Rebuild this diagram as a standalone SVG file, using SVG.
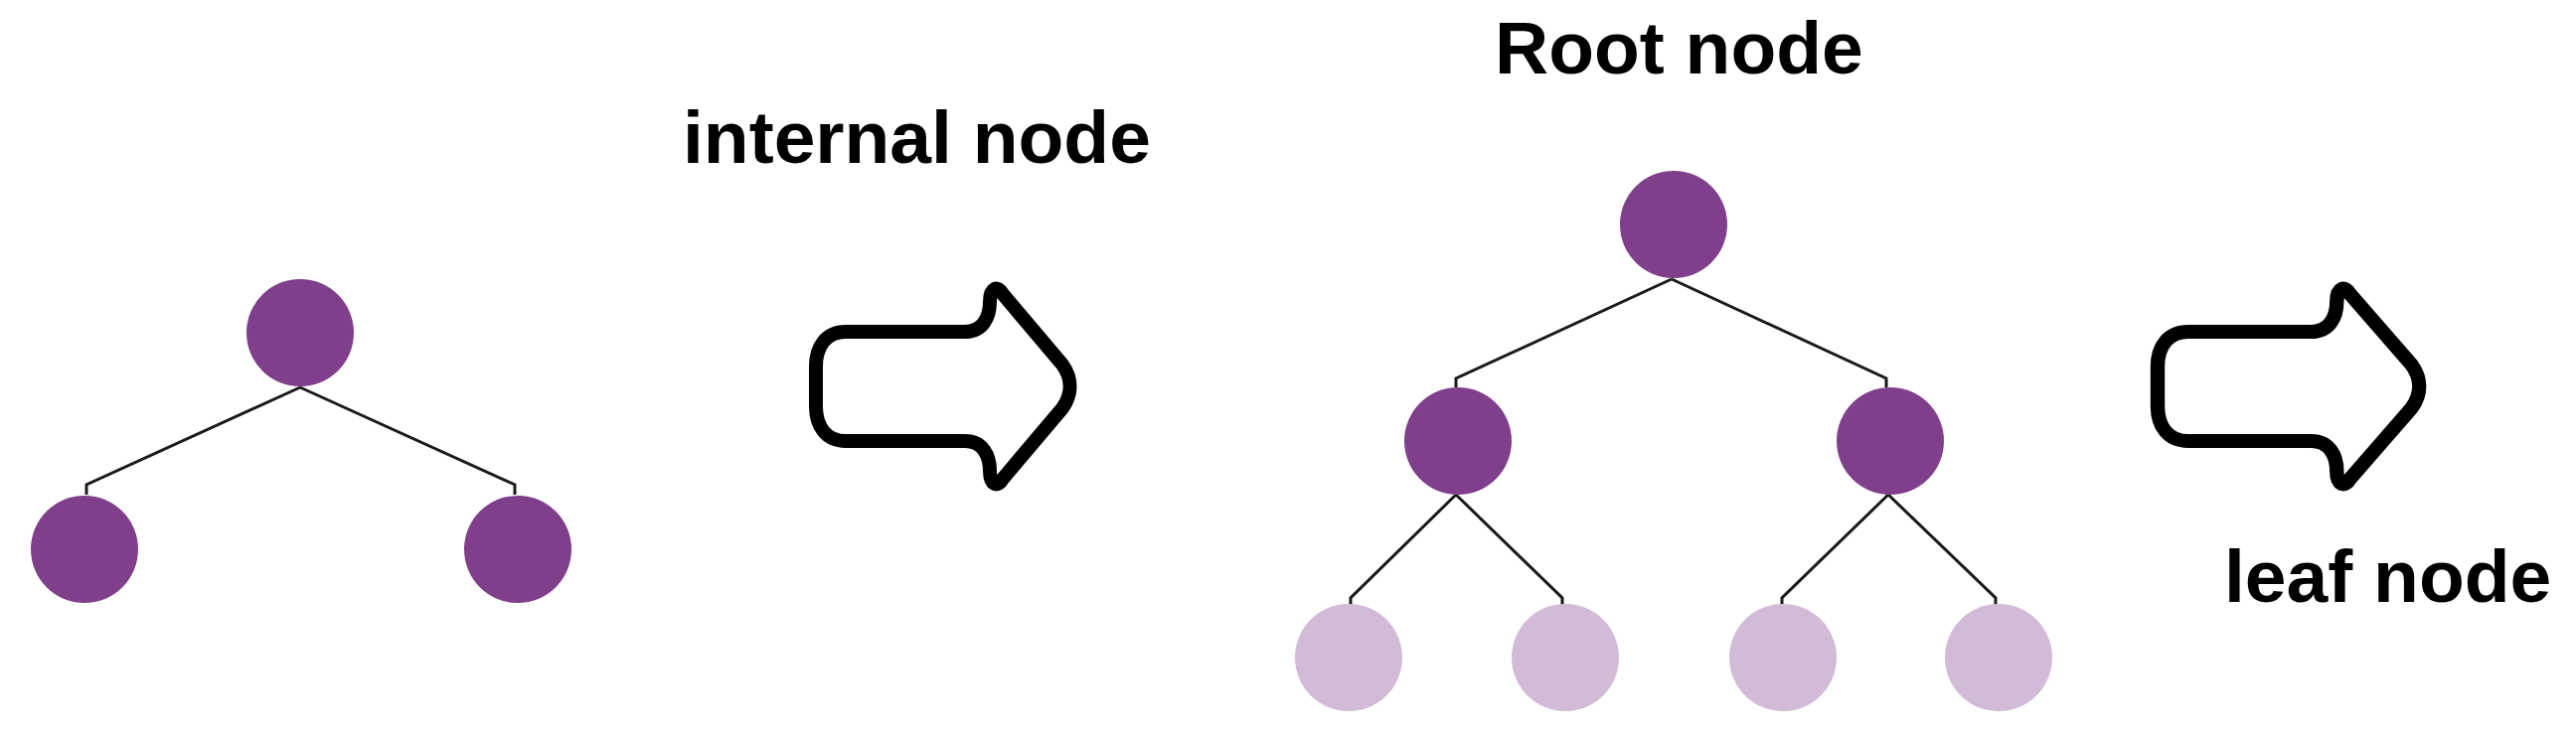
<svg xmlns="http://www.w3.org/2000/svg" width="2592" height="743" viewBox="0 0 2592 743">
<defs>
<style>
.d{fill:#7f3f8a}.l{fill:#d1bbd6}
.c{fill:none;stroke:#1a1a1a;stroke-width:3}
.a{fill:#fff;stroke:#000;stroke-width:14;stroke-linejoin:round}
.t{font-family:"Liberation Sans",Arial,sans-serif;font-weight:bold;font-size:75px;fill:#000}
</style>
<path id="arr" class="a" d="M30,-55 H150 C168,-55 175,-70 175,-85 C175,-100 183,-102 188,-93 L248,-22 C258,-8 258,8 248,22 L188,93 C183,102 175,100 175,85 C175,70 168,55 150,55 H30 C10,55 0,40 0,20 V-20 C0,-40 10,-55 30,-55 Z"/>
</defs>
<rect width="2592" height="743" fill="#fff"/>
<g id="connectors">
<path class="c" d="M302,390 L87,488 V498 M302,390 L518,488 V498"/>
<path class="c" d="M1682,281 L1465,381 V390 M1682,281 L1898,381 V390"/>
<path class="c" d="M1465,498 L1359,602 V610 M1465,498 L1572,602 V610"/>
<path class="c" d="M1900,498 L1793,602 V610 M1900,498 L2008,602 V610"/>
</g>
<g id="t1-root"><circle class="d" cx="302" cy="335" r="54"/></g>
<g id="t1-left"><circle class="d" cx="85" cy="553" r="54"/></g>
<g id="t1-right"><circle class="d" cx="521" cy="553" r="54"/></g>
<g id="arrow1"><use href="#arr" transform="translate(821,389)"/></g>
<g id="label-internal"><text class="t" x="687" y="164">internal node</text></g>
<g id="label-root"><text class="t" x="1504" y="74">Root node</text></g>
<g id="t2-root"><circle class="d" cx="1684" cy="226" r="54"/></g>
<g id="t2-l"><circle class="d" cx="1467" cy="444" r="54"/></g>
<g id="t2-r"><circle class="d" cx="1902" cy="444" r="54"/></g>
<g id="leaf1"><circle class="l" cx="1357" cy="662" r="54"/></g>
<g id="leaf2"><circle class="l" cx="1575" cy="662" r="54"/></g>
<g id="leaf3"><circle class="l" cx="1794" cy="662" r="54"/></g>
<g id="leaf4"><circle class="l" cx="2011" cy="662" r="54"/></g>
<g id="arrow2"><use href="#arr" transform="translate(2171,389) scale(1.03,1)"/></g>
<g id="label-leaf"><text class="t" x="2238" y="606">leaf node</text></g>
</svg>
